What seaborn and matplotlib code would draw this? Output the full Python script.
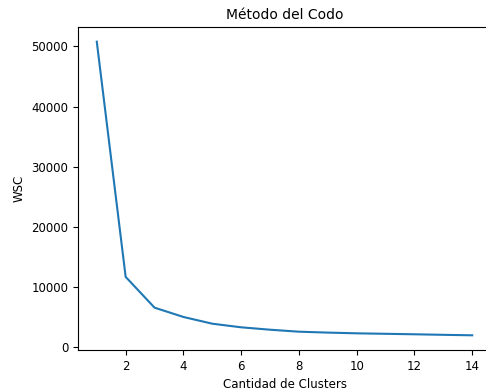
import pandas as pd
import matplotlib.pyplot as plt
import seaborn as sns

# number of clusters and within-cluster sum of squares
clusters = [1, 2, 3, 4, 5, 6, 7, 8, 9, 10, 11, 12, 13, 14]
wsc = [50800, 11670, 6550, 5000, 3880, 3280, 2880, 2550, 2400, 2280, 2200, 2120, 2030, 1950]

df = pd.DataFrame({"Clusters": clusters, "WSC": wsc})

plt.rcParams["font.family"] = ["DejaVu Sans"]
fig = plt.figure(figsize=(4.86, 3.9), dpi=100)
# axes run a bit past the right edge, as in the cropped original
ax = fig.add_axes([0.1605, 0.1026, 0.8498, 0.8282])
sns.lineplot(data=df, x="Clusters", y="WSC", color="#1f77b4", linewidth=1.5, ax=ax)
ax.set_title("Método del Codo", fontsize=10)
ax.set_xlabel("Cantidad de Clusters", fontsize=8.5)
ax.set_ylabel("WSC", fontsize=8.5)
ax.tick_params(labelsize=8.5)
ax.set_xticks([2, 4, 6, 8, 10, 12, 14])
ax.spines["right"].set_visible(False)
plt.savefig("out.png", dpi=100)
